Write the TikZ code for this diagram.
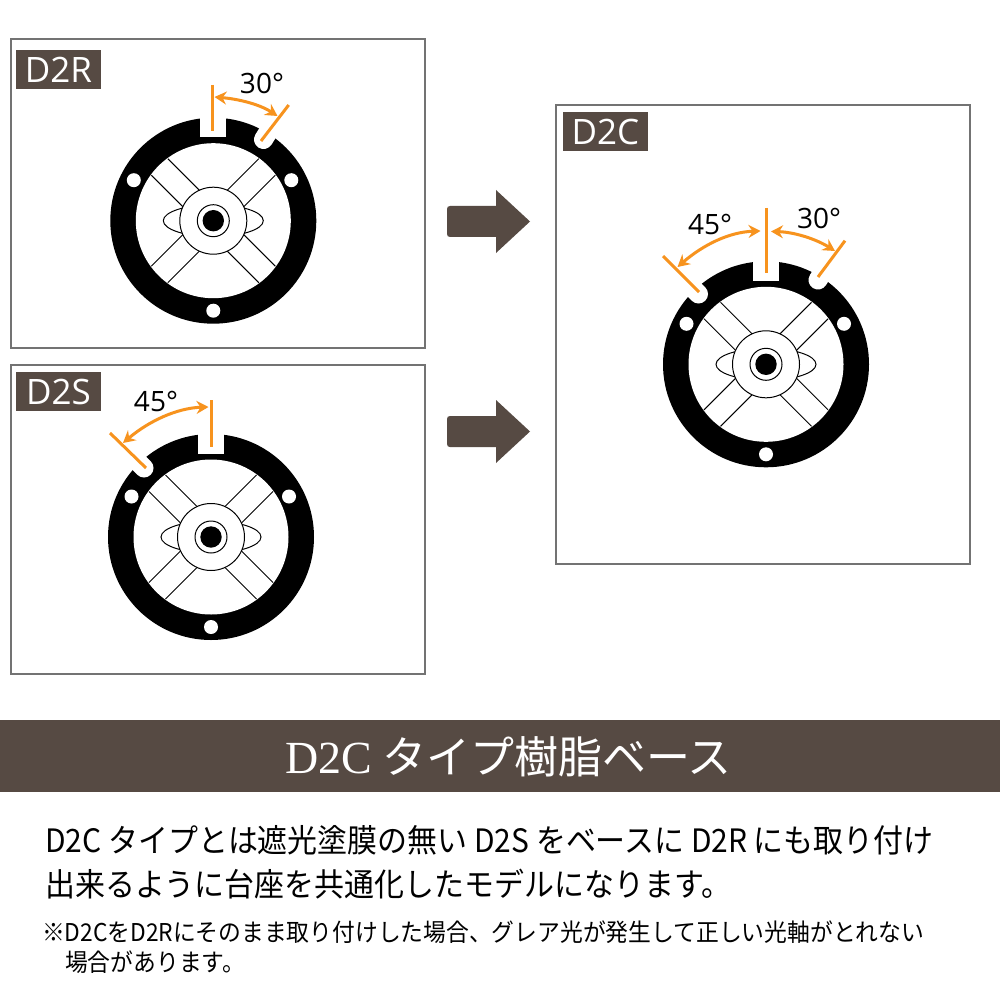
\documentclass[tikz,border=0pt]{standalone}
\usepackage{fontspec}
\usetikzlibrary{arrows.meta}
\setmainfont{Open Sans}
\newfontfamily\jp{Noto Sans CJK JP}
\newfontfamily\jpn[FakeStretch=0.93]{Noto Sans CJK JP}
\newfontfamily\serifl{Liberation Serif}
\definecolor{brownd}{HTML}{564A43}
\definecolor{orangea}{HTML}{F7931E}
\tikzset{
  panel/.style={draw=black!55,line width=1.2pt,fill=white},
  tagbox/.style={fill=brownd,text=white,minimum width=85pt,minimum height=39pt,inner sep=0pt,font=\fontsize{35}{35}\selectfont},
  thin line/.style={draw=black,line width=1pt},
  guide/.style={draw=orangea,line width=3pt},
  sweep/.style={draw=orangea,line width=3pt,{Stealth[length=12pt,width=13pt,inset=4pt]}-{Stealth[length=12pt,width=13pt,inset=4pt]}},
  deg/.style={font=\fontsize{28}{28}\selectfont,text=black,inner sep=0pt},
  bigarrow/.style={fill=brownd,draw=none},
  hint/.style={anchor=west,inner sep=0pt,text=black},
  notch/.style={draw=white,line width=19pt,line cap=round}
}
\newcommand{\basering}[1]{%
  \begin{scope}[shift={(#1)}]
    \fill[black] (0,0) circle[radius=103];
    \fill[white] (0,0) circle[radius=77.5];
    \fill[white] (-13,-110) rectangle (13,-83.5);
    \fill[white] (-79.5,-40.5) circle[radius=7];
    \fill[white] (78,-40.5) circle[radius=7];
    \fill[white] (0,90) circle[radius=7];
    \foreach \sx in {-1,1} \foreach \sy in {-1,1} {
      \draw[thin line] (\sx*13.5,\sy*30) -- (\sx*45.5,\sy*62);
      \draw[thin line] (\sx*30,\sy*13.5) -- (\sx*62,\sy*45.5);
    }
    \draw[thin line,fill=white] (0,0) ellipse[x radius=50,y radius=16];
    \draw[thin line,fill=white] (0,0) circle[radius=33.5];
    \draw[thin line,fill=white] (0,0) circle[radius=16];
    \fill[black] (0,0) circle[radius=10.7];
  \end{scope}}
\begin{document}
\begin{tikzpicture}[x=1pt,y=-1pt]
\useasboundingbox (0,0) rectangle (1000,1000);
\fill[white] (0,0) rectangle (1000,1000);
\path[panel] (11,39) rectangle (425,348);
\path[panel] (11,365) rectangle (425,674);
\path[panel] (556,105) rectangle (970,564);
\node[tagbox] (tagR) at (58.5,69.5) {D2R};
\node[tagbox] (tagS) at (58.5,391.5) {D2S};
\node[tagbox] (tagC) at (605.5,132) {D2C};
% D2R
\coordinate (cR) at (213.3,220.7);
\basering{cR}
\draw[notch] (263.5,139.5) -- (270,129);
\draw[guide] (212,85) -- (212,131);
\draw[guide] (288.7,105) -- (261,141);
\draw[sweep] (214.5,97) .. controls (238,99) and (259,104) .. (277.5,116);
\node[deg] (a30R) at (262,83) {30°};
% D2S
\coordinate (cS) at (211,537);
\basering{cS}
\draw[notch] (144,468) -- (135,459);
\draw[guide] (211,400) -- (211,447);
\draw[guide] (110,433) -- (146,468);
\draw[sweep] (208.5,407) .. controls (177,408) and (149,421) .. (123,443);
\node[deg] (a45S) at (156,401) {45°};
% D2C
\coordinate (cC) at (766,364.3);
\basering{cC}
\draw[notch] (698.5,294) -- (689.5,285);
\draw[notch] (818,280) -- (824.5,269.5);
\draw[guide] (766,208) -- (766,273);
\draw[guide] (663,256) -- (699,292);
\draw[guide] (845,240.7) -- (818,277);
\draw[sweep] (760.5,231) .. controls (729,232) and (703,245) .. (677.5,267);
\draw[sweep] (771,231.5) .. controls (794,232) and (816,239) .. (835,251);
\node[deg] (a45C) at (710,224) {45°};
\node[deg] (a30C) at (819,218) {30°};
% arrows
\foreach \dy/\nm in {0/arA,210/arB} {
  \path[bigarrow,shift={(0,\dy)}] (450,206) -- (496,206) -- (496,190) -- (530,221.5) -- (496,253) -- (496,237) -- (450,237)
     .. controls (448,237) and (447,236) .. (447,234) -- (447,209) .. controls (447,207) and (448,206) .. (450,206) -- cycle;
}
% band
\fill[brownd] (0,720) rectangle (1000,792);
\node[inner sep=0pt,text=white] (title) at (508.5,757) {\serifl\fontsize{46}{46}\selectfont D2C\hspace{10pt}\jp\fontsize{44}{44}\selectfont タイプ樹脂ベース};
% text
\node[hint] (l1) at (45,840) {\jpn\fontsize{32.2}{32.2}\selectfont D2C タイプとは遮光塗膜の無い D2S をベースに D2R にも取り付け};
\node[hint] (l2) at (45,884) {\jpn\fontsize{32.2}{32.2}\selectfont 出来るように台座を共通化したモデルになります。};
\node[hint] (n1) at (42,932) {\jpn\fontsize{24.5}{24.5}\selectfont ※D2CをD2Rにそのまま取り付けした場合、グレア光が発生して正しい光軸がとれない};
\node[hint] (n2) at (65,962) {\jpn\fontsize{24.5}{24.5}\selectfont 場合があります。};
\end{tikzpicture}
\end{document}
